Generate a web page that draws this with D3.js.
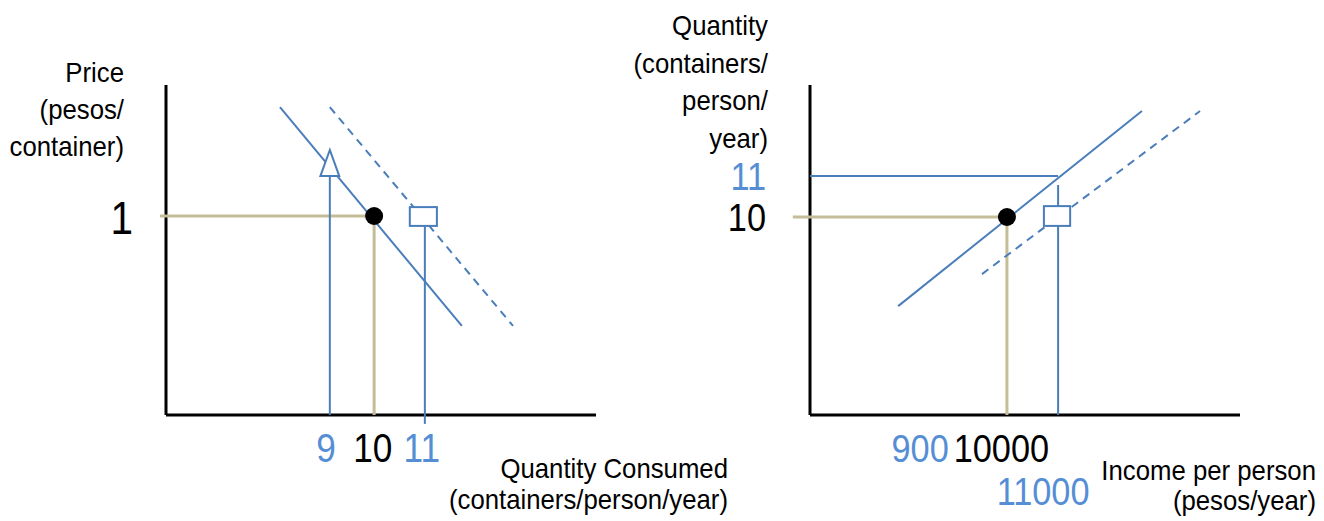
<!DOCTYPE html>
<html>
<head>
<meta charset="utf-8">
<script src="https://cdn.jsdelivr.net/npm/d3@7"></script>
<style>
  html, body { margin: 0; padding: 0; background: #fff; }
  svg { display: block; }
  text { font-family: "Liberation Sans", Arial, sans-serif; }
</style>
</head>
<body>
<script>
// ---------- DATA (diagram units, 0-100 on each axis) ----------
// Left panel: demand for containers
const leftBaseline   = [{x: 48.4, y: 60.3}];                 // equilibrium (Q=10, P=1)
const leftDemand     = [{x: 26.5, y: 93.3}, {x: 68.8, y: 27.0}];
const leftDemandNew  = [{x: 38.1, y: 93.3}, {x: 80.7, y: 27.0}];
const leftArrowQ9    = [{x: 38.1, y: 0}, {x: 38.1, y: 72.4}];
const leftArrowHead  = [{x: 38.1, y: 80.3}, {x: 35.9, y: 72.4}, {x: 40.3, y: 72.4}];
const leftQ11Line    = [{x: 60.2, y: -2.7}, {x: 60.2, y: 57.3}];
const leftQ11Box     = {x0: 56.7, x1: 63.0, y0: 57.3, y1: 63.0};
const leftXTicks     = [{label: "9", x: 37.2, c: "blue"}, {label: "10", x: 48.1, c: "black"}, {label: "11", x: 59.5, c: "blue"}];
const leftYTicks     = [{label: "1", y: 60.3}];
const leftYTitle     = ["Price", "(pesos/", "container)"];
const leftXTitle     = ["Quantity Consumed", "(containers/person/year)"];

// Right panel: Engel curve
const rightBaseline  = [{x: 45.8, y: 60.0}];                 // (Income 10000, Q=10)
const rightEngel     = [{x: 20.5, y: 33.0}, {x: 77.2, y: 92.1}];
const rightEngelNew  = [{x: 40.0, y: 42.7}, {x: 90.7, y: 92.1}];
const rightQ11Line   = [{x: 0, y: 72.4}, {x: 57.7, y: 72.4}];
const rightI11Line   = [{x: 57.7, y: 69.7}, {x: 57.7, y: 0}];
const rightI11Box    = {x0: 54.4, x1: 60.5, y0: 57.3, y1: 63.3};
const rightXTicks    = [{label: "900", x: 25.6, c: "blue", row: 0}, {label: "10000", x: 44.5, c: "black", row: 0}, {label: "11000", x: 54.2, c: "blue", row: 1}];
const rightYTicks    = [{label: "11", y: 72.4, c: "blue"}, {label: "10", y: 60.0, c: "black"}];
const rightYTitle    = ["Quantity", "(containers/", "person/", "year)"];
const rightXTitle    = ["Income per person", "(pesos/year)"];

// ---------- STYLE ----------
const BLUE = "#4a7ebb", BLUE_TXT = "#558ed5", TAN = "#c4bd97";
const W = 1324, H = 521;
const NUM_SX = 0.88;   // numbers are drawn slightly condensed
const TXT_SX = 0.92;   // titles slightly condensed

const svg = d3.select("body").append("svg").attr("width", W).attr("height", H);

function panel(x0, x1) {
  const x = d3.scaleLinear().domain([0, 100]).range([x0, x1]);
  const y = d3.scaleLinear().domain([0, 100]).range([415, 85]);
  return {x, y};
}
const L = panel(166, 596);
const R = panel(810, 1240);

function line(g, s, pts, color, w, dash) {
  const gen = d3.line().x(d => s.x(d.x)).y(d => s.y(d.y));
  g.append("path").attr("d", gen(pts)).attr("fill", "none")
    .attr("stroke", color).attr("stroke-width", w)
    .attr("stroke-dasharray", dash || null);
}
function axes(g, s) {
  g.append("line").attr("x1", s.x(0)).attr("x2", s.x(0)).attr("y1", s.y(100)).attr("y2", s.y(0))
    .attr("stroke", "#000").attr("stroke-width", 3);
  g.append("line").attr("x1", s.x(0)).attr("x2", s.x(100)).attr("y1", s.y(0)).attr("y2", s.y(0))
    .attr("stroke", "#000").attr("stroke-width", 3);
}
function box(g, s, b) {
  g.append("rect").attr("x", s.x(b.x0)).attr("y", s.y(b.y1))
    .attr("width", s.x(b.x1) - s.x(b.x0)).attr("height", s.y(b.y0) - s.y(b.y1))
    .attr("fill", "#fff").attr("stroke", BLUE).attr("stroke-width", 2);
}
function dot(g, s, p) {
  g.append("circle").attr("cx", s.x(p.x)).attr("cy", s.y(p.y)).attr("r", 9).attr("fill", "#000");
}
function nums(g, data, xf, yf, anchor, size) {
  g.selectAll(null).data(data).join("text")
    .attr("transform", d => `translate(${xf(d)},${yf(d)}) scale(${NUM_SX},1)`)
    .attr("text-anchor", anchor).attr("font-size", size)
    .attr("fill", d => d.c === "blue" ? BLUE_TXT : "#000").text(d => d.label);
}
function titles(g, data, x, y0, step) {
  g.selectAll(null).data(data).join("text")
    .attr("transform", (d, i) => `translate(${x},${y0 + i * step}) scale(${TXT_SX},1)`)
    .attr("text-anchor", "end").attr("font-size", 28).attr("fill", "#000").text(d => d);
}

// ---------- LEFT PANEL ----------
const gl = svg.append("g");
axes(gl, L);
const lb = leftBaseline[0];
line(gl, L, [{x: -1.4, y: lb.y}, lb], TAN, 3);
line(gl, L, [lb, {x: lb.x, y: 0}], TAN, 3);
line(gl, L, leftArrowQ9, BLUE, 2);
line(gl, L, leftQ11Line, BLUE, 2);
line(gl, L, leftDemand, BLUE, 2);
line(gl, L, leftDemandNew, BLUE, 2, "8,6");
gl.append("path")
  .attr("d", d3.line().x(d => L.x(d.x)).y(d => L.y(d.y)).curve(d3.curveLinearClosed)(leftArrowHead))
  .attr("fill", "#fff").attr("stroke", BLUE).attr("stroke-width", 2);
box(gl, L, leftQ11Box);
dot(gl, L, lb);

nums(gl, leftXTicks, d => L.x(d.x), () => 462, "middle", 40);
nums(gl, leftYTicks, () => 133, d => L.y(d.y) + 18, "end", 46);
titles(gl, leftYTitle, 124, 82, 37);
titles(gl, leftXTitle, 728, 478, 31);

// ---------- RIGHT PANEL ----------
const gr = svg.append("g");
axes(gr, R);
const rb = rightBaseline[0];
line(gr, R, [{x: -4.0, y: rb.y}, rb], TAN, 3);
line(gr, R, [rb, {x: rb.x, y: 0}], TAN, 3);
line(gr, R, rightQ11Line, BLUE, 2);
line(gr, R, rightI11Line, BLUE, 2);
line(gr, R, rightEngel, BLUE, 2);
line(gr, R, rightEngelNew, BLUE, 2, "8,6");
box(gr, R, rightI11Box);
dot(gr, R, rb);

nums(gr, rightXTicks, d => R.x(d.x), d => 462 + d.row * 43, "middle", 39);
nums(gr, rightYTicks, () => 766, d => R.y(d.y) + 14, "end", 39);
titles(gr, rightYTitle, 768, 35, 37.5);
titles(gr, rightXTitle, 1316, 480, 30);
</script>
</body>
</html>
